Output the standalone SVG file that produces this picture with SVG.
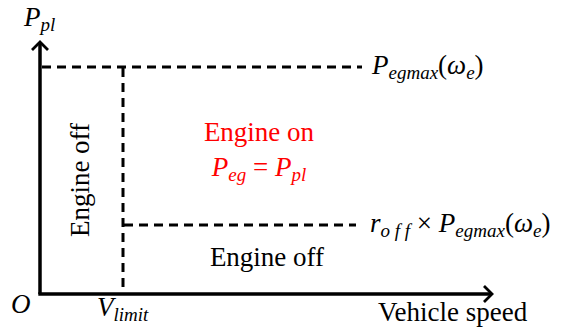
<svg xmlns="http://www.w3.org/2000/svg" width="572" height="331" viewBox="0 0 572 331">
<style>
text{font-family:"Liberation Serif","Times New Roman",serif;font-size:27px;fill:#000}
.i{font-style:italic}
.s{font-size:19px;font-style:italic}
.red{fill:#ff0000}
.axis{stroke:#000;stroke-width:3.5;fill:none}
.dash{stroke:#000;stroke-width:3;fill:none;stroke-dasharray:9,6}
</style>
<defs>
<marker id="arr" markerWidth="14" markerHeight="20" refX="9" refY="10" orient="auto" markerUnits="userSpaceOnUse">
<path d="M1,2 L9,10 L1,18" fill="none" stroke="#000" stroke-width="2.8"/>
</marker>
</defs>
<g id="connectors">
<line class="axis" x1="40" y1="294" x2="40" y2="42" marker-end="url(#arr)"/>
<line class="axis" x1="38.3" y1="294" x2="492" y2="294" marker-end="url(#arr)"/>
<line class="dash" x1="42" y1="67" x2="362" y2="67"/>
<line class="dash" x1="123" y1="68" x2="123" y2="292"/>
<line class="dash" x1="124" y1="225" x2="356" y2="225"/>
</g>
<g id="yaxis-label"><text x="24" y="26" class="i">P<tspan class="s" dy="5">pl</tspan></text></g>
<g id="origin"><text x="11" y="313" class="i">O</text></g>
<g id="vlimit"><text x="97" y="316" class="i">V<tspan class="s" dy="5">limit</tspan></text></g>
<g id="xaxis-label"><text x="378" y="321">Vehicle speed</text></g>
<g id="pegmax"><text x="372" y="74"><tspan class="i">P</tspan><tspan class="s" dy="5">egmax</tspan><tspan dy="-5">(</tspan><tspan class="i">ω</tspan><tspan class="s" dy="5">e</tspan><tspan dy="-5">)</tspan></text></g>
<g id="roff"><text x="370" y="232"><tspan class="i">r</tspan><tspan class="s" dy="5">o f f</tspan><tspan dy="-5"> × </tspan><tspan class="i">P</tspan><tspan class="s" dy="5">egmax</tspan><tspan dy="-5">(</tspan><tspan class="i">ω</tspan><tspan class="s" dy="5">e</tspan><tspan dy="-5">)</tspan></text></g>
<g id="engine-off-left"><text transform="translate(89,180) rotate(-90)" text-anchor="middle">Engine off</text></g>
<g id="engine-on"><text x="259" y="141" text-anchor="middle" class="red">Engine on</text>
<text x="259" y="176" text-anchor="middle" class="red"><tspan class="i">P</tspan><tspan class="s" dy="5">eg</tspan><tspan dy="-5"> = </tspan><tspan class="i">P</tspan><tspan class="s" dy="5">pl</tspan></text></g>
<g id="engine-off-bottom"><text x="267" y="266" text-anchor="middle">Engine off</text></g>
</svg>
